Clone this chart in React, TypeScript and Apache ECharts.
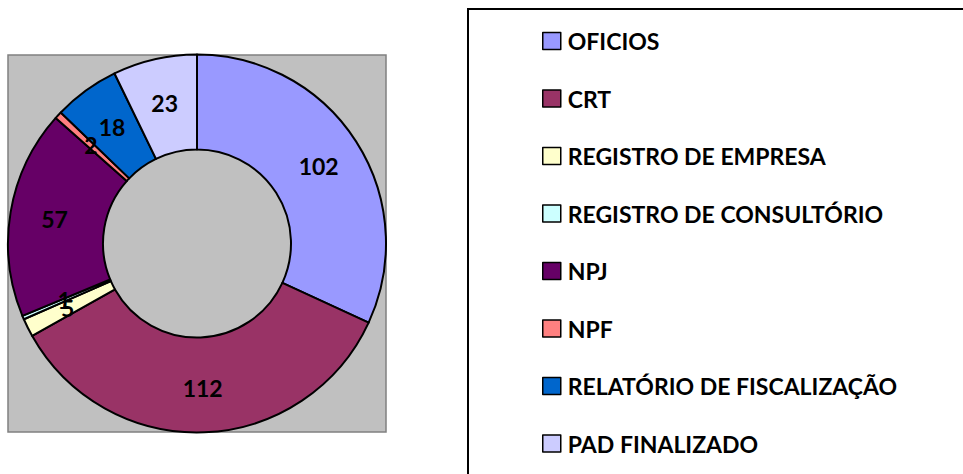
import React, { useEffect, useRef } from "react";
import * as echarts from "echarts";

const categories = [
  "OFICIOS",
  "CRT",
  "REGISTRO DE EMPRESA",
  "REGISTRO DE CONSULTÓRIO",
  "NPJ",
  "NPF",
  "RELATÓRIO DE FISCALIZAÇÃO",
  "PAD FINALIZADO",
];
const values = [102, 112, 5, 1, 57, 2, 18, 23];
const colors = ["#9999FF", "#993366", "#FFFFCC", "#CCFFFF", "#660066", "#FF8080", "#0066CC", "#CCCCFF"];

const FONT = "Lato";

export default function App() {
  const ref = useRef<HTMLDivElement>(null);
  useEffect(() => {
    if (!ref.current) return;
    const chart = echarts.init(ref.current, undefined, { renderer: "svg" });
    chart.setOption({
      animation: false,
      graphic: [
        {
          type: "rect",
          z: 0,
          shape: { x: 8, y: 55, width: 378, height: 377 },
          style: { fill: "#C0C0C0", stroke: "#808080", lineWidth: 1.5 },
        },
        {
          type: "rect",
          z: 0,
          shape: { x: 468, y: 9, width: 600, height: 600 },
          style: { fill: "#FFFFFF", stroke: "#000000", lineWidth: 2 },
        },
      ],
      legend: {
        orient: "vertical",
        left: 542,
        top: 29.5,
        padding: 0,
        height: 800,
        itemWidth: 18,
        itemHeight: 17,
        itemGap: 34.5,
        icon: "rect",
        itemStyle: { borderColor: "#000", borderWidth: 1.5 },
        textStyle: { fontFamily: FONT, fontWeight: "bold", fontSize: 23, color: "#000", lineHeight: 20, padding: [0, 0, 0, 2] },
        data: categories,
      },
      series: [
        {
          type: "pie",
          center: [197, 243.5],
          radius: [94, 189],
          startAngle: 90,
          clockwise: true,
          avoidLabelOverlap: false,
          minShowLabelAngle: 0,
          labelLayout: { hideOverlap: false },
          itemStyle: { borderColor: "#000", borderWidth: 2 },
          label: {
            show: true,
            position: "inside",
            formatter: "{c}",
            color: "#000",
            fontFamily: FONT,
            fontWeight: "bold",
            fontSize: 23,
          },
          labelLine: { show: false },
          emphasis: { disabled: true },
          data: categories.map((name, i) => ({
            name,
            value: values[i],
            itemStyle: { color: colors[i] },
          })),
        },
      ],
    });
    return () => chart.dispose();
  }, []);
  return (
    <div
      ref={ref}
      style={{ position: "absolute", left: 0, top: 0, width: 963, height: 474 }}
    />
  );
}
